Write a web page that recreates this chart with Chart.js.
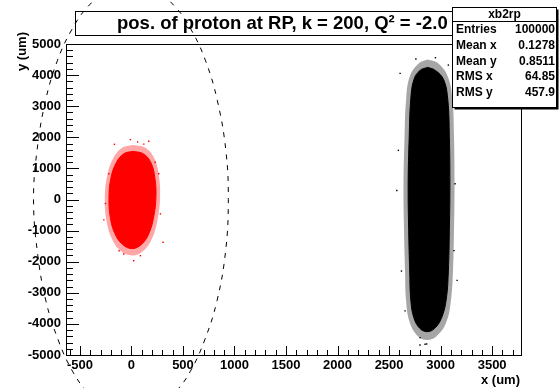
<!DOCTYPE html>
<html>
<head>
<meta charset="utf-8">
<script src="https://cdn.jsdelivr.net/npm/chart.js@4/dist/chart.umd.min.js"></script>
<style>
html, body { margin: 0; padding: 0; background: #fff; }
canvas { display: block; }
</style>
</head>
<body>
<canvas id="xb2rp" width="560" height="388"></canvas>
<script>
// Texte
const titleText = 'pos. of proton at RP, k = 200, Q\u00b2 = -2.0';
const histName = 'xb2rp';
const statNames = ['Entries', 'Mean x', 'Mean y', 'RMS x', 'RMS y'];
const statValues = ['100000', '0.1278', '0.8511', '64.85', '457.9'];
const xTicks = [-500, 0, 500, 1000, 1500, 2000, 2500, 3000, 3500];
const yTicks = [-5000, -4000, -3000, -2000, -1000, 0, 1000, 2000, 3000, 4000, 5000];

// roter Fleck (dichter Kern + Rand)
const redCoreX = [15, 115, 190, 228, 238, 218, 175, 105, 10, -85, -160, -205, -218, -200, -148, -75, 15];
const redCoreY = [1550, 1470, 1180, 680, 100, -520, -1050, -1420, -1580, -1450, -1100, -580, 50, 680, 1180, 1470, 1550];
const redHaloX = [15, 135, 225, 268, 278, 258, 210, 125, 10, -105, -195, -245, -258, -238, -180, -90, 15];
const redHaloY = [1750, 1660, 1300, 720, 100, -560, -1170, -1620, -1800, -1650, -1220, -620, 50, 720, 1300, 1660, 1750];
const redStrayX = [-10, 168, -165, 265, -252, -268, 307, 22, -75, 87, 281, -220, 120, -120, 60, 230];
const redStrayY = [1925, 1871, 1774, 829, -129, -655, -1377, -1968, -1752, -1806, -461, 829, 1780, -1650, 1850, 1200];

// schwarzer Streifen
const blackCoreX = [2875, 2950, 3030, 3070, 3085, 3090, 3085, 3075, 3055, 3010, 2940, 2870, 2800, 2740, 2710, 2700, 2690, 2685, 2695, 2710, 2740, 2800, 2875];
const blackCoreY = [4250, 4150, 3850, 3200, 2000, 500, -1000, -2300, -3200, -3800, -4150, -4250, -4150, -3800, -3200, -2300, -1000, 500, 2000, 3200, 3850, 4150, 4250];
const blackHaloX = [2875, 2975, 3070, 3115, 3130, 3135, 3130, 3120, 3100, 3055, 2960, 2870, 2780, 2700, 2665, 2655, 2645, 2640, 2650, 2665, 2700, 2790, 2875];
const blackHaloY = [4500, 4380, 3950, 3200, 2000, 500, -1000, -2300, -3250, -3950, -4400, -4520, -4400, -3950, -3250, -2300, -1000, 500, 2000, 3200, 3950, 4380, 4500];
const blackStrayX = [2655, 2800, 2849, 2607, 3075, 3140, 2575, 2800, 2865, 2590, 3130, 2950, 2760, 3160, 2620];
const blackStrayY = [-3581, -4442, -4655, 4055, 4323, 506, 290, -4680, -4645, 1580, -1645, 4560, 4520, -2600, -2300];

// gestrichelte Kontur
const ringX = [0, 223, 426, 581, 717, 833, 916, 940, 914, 830, 707, 572, 432, 181, 0, -181, -432, -572, -707, -830, -914, -950, -916, -833, -717, -581, -426, -223, 0];
const ringY = [6940, 6740, 6190, 5450, 4480, 3190, 1580, 0, -1650, -3260, -4550, -5520, -6160, -6810, -6940, -6810, -6160, -5520, -4550, -3260, -1650, 0, 1580, 3190, 4480, 5450, 6190, 6740, 6940];

const FONT = '"Liberation Sans", Arial, Helvetica, sans-serif';

function pts(xs, ys) {
    return xs.map((x, i) => ({ x: x, y: ys[i] }));
}

function shape(xs, ys, color, border) {
    return {
        type: 'line',
        data: pts(xs, ys),
        fill: 'shape',
        backgroundColor: color,
        borderColor: color,
        borderWidth: border,
        pointRadius: 0,
        tension: 0.4
    };
}

function stray(xs, ys, color) {
    return {
        type: 'scatter',
        data: pts(xs, ys),
        pointStyle: 'rect',
        pointRadius: 1,
        backgroundColor: color,
        borderWidth: 0
    };
}

// ROOT-Rahmen, Ticks nach innen, Titelbox, Statistikbox
const rootStyle = {
    id: 'rootStyle',
    beforeDatasetsDraw(chart) {
        const c = chart.ctx;
        c.save();
        c.fillStyle = '#fff';
        c.fillRect(75.5, 11.5, 400, 24);
        c.strokeStyle = '#000';
        c.lineWidth = 1;
        c.strokeRect(75.5, 11.5, 400, 24);
        c.fillStyle = '#000';
        c.font = 'bold 18.5px ' + FONT;
        c.textAlign = 'left';
        c.textBaseline = 'middle';
        c.fillText(titleText, 117, 24);
        c.restore();
    },
    afterDatasetsDraw(chart) {
        const c = chart.ctx;
        const a = chart.chartArea;
        const xs = chart.scales.x, ys = chart.scales.y;
        c.save();
        c.strokeStyle = '#000';
        c.lineWidth = 1;
        c.beginPath();
        for (let v = -600; v <= 3700; v += 100) {
            const px = Math.round(xs.getPixelForValue(v)) + 0.5;
            const len = v % 500 === 0 ? 9 : 5;
            c.moveTo(px, a.bottom);
            c.lineTo(px, a.bottom - len);
        }
        for (let v = -5000; v <= 5000; v += 200) {
            const py = Math.round(ys.getPixelForValue(v)) + 0.5;
            const len = v % 1000 === 0 ? 13 : 7;
            c.moveTo(a.left, py);
            c.lineTo(a.left + len, py);
        }
        c.stroke();
        c.strokeRect(Math.round(a.left) + 0.5, Math.round(a.top) + 0.5,
            Math.round(a.right - a.left), Math.round(a.bottom - a.top));

        // Achsentitel
        c.fillStyle = '#000';
        c.font = 'bold 13px ' + FONT;
        c.textAlign = 'right';
        c.textBaseline = 'middle';
        c.fillText('x (um)', 520, 380);
        c.translate(22, 32);
        c.rotate(-Math.PI / 2);
        c.fillText('y (um)', 0, 0);
        c.restore();
    },
    afterDraw(chart) {
        const c = chart.ctx;
        const bx = 452.5, by = 7.5, bw = 104, bh = 100;
        c.save();
        c.fillStyle = '#000';
        c.fillRect(bx + 2, by + 2, bw, bh);
        c.fillStyle = '#fff';
        c.fillRect(bx, by, bw, bh);
        c.strokeStyle = '#000';
        c.lineWidth = 1;
        c.strokeRect(bx, by, bw, bh);
        c.beginPath();
        c.moveTo(bx, 21.5);
        c.lineTo(bx + bw, 21.5);
        c.stroke();
        c.fillStyle = '#000';
        c.font = 'bold 12px ' + FONT;
        c.textBaseline = 'middle';
        c.textAlign = 'center';
        c.fillText(histName, bx + bw / 2, 15);
        statNames.forEach((name, i) => {
            const y = 30 + i * 15.7;
            c.textAlign = 'left';
            c.fillText(name, 456, y);
            c.textAlign = 'right';
            c.fillText(statValues[i], 555, y);
        });
        c.restore();
    }
};

const ctx = document.getElementById('xb2rp').getContext('2d');
const chart = new Chart(ctx, {
    type: 'scatter',
    data: {
        datasets: [
            shape(redHaloX, redHaloY, 'rgba(255,0,0,0.35)', 0),
            shape(redCoreX, redCoreY, '#ff0000', 1),
            stray(redStrayX, redStrayY, '#ff0000'),
            shape(blackHaloX, blackHaloY, 'rgba(0,0,0,0.35)', 0),
            shape(blackCoreX, blackCoreY, '#000000', 1),
            stray(blackStrayX, blackStrayY, '#000000'),
            {
                type: 'line',
                data: pts(ringX, ringY),
                fill: false,
                borderColor: '#000',
                borderWidth: 1,
                borderDash: [5, 6],
                pointRadius: 0,
                tension: 0.4,
                clip: false
            }
        ]
    },
    options: {
        responsive: false,
        animation: false,
        devicePixelRatio: 1,
        events: [],
        layout: { padding: { left: 0, right: 39, top: 44, bottom: 0 } },
        plugins: {
            legend: { display: false },
            tooltip: { enabled: false }
        },
        scales: {
            x: {
                type: 'linear',
                min: -635,
                max: 3780,
                afterBuildTicks: s => { s.ticks = xTicks.map(v => ({ value: v })); },
                afterFit: s => { s.height = 33; },
                grid: { display: false, drawTicks: false },
                border: { display: false },
                ticks: {
                    color: '#000',
                    font: { family: FONT, size: 13, weight: 'bold' },
                    padding: 3,
                    maxRotation: 0,
                    autoSkip: false,
                    callback: v => String(v)
                }
            },
            y: {
                type: 'linear',
                min: -5000,
                max: 5000,
                afterBuildTicks: s => { s.ticks = yTicks.map(v => ({ value: v })); },
                afterFit: s => { s.width = 66; },
                grid: { display: false, drawTicks: false },
                border: { display: false },
                ticks: {
                    color: '#000',
                    font: { family: FONT, size: 13, weight: 'bold' },
                    padding: 5,
                    autoSkip: false,
                    callback: v => String(v)
                }
            }
        }
    },
    plugins: [rootStyle]
});
</script>
</body>
</html>
